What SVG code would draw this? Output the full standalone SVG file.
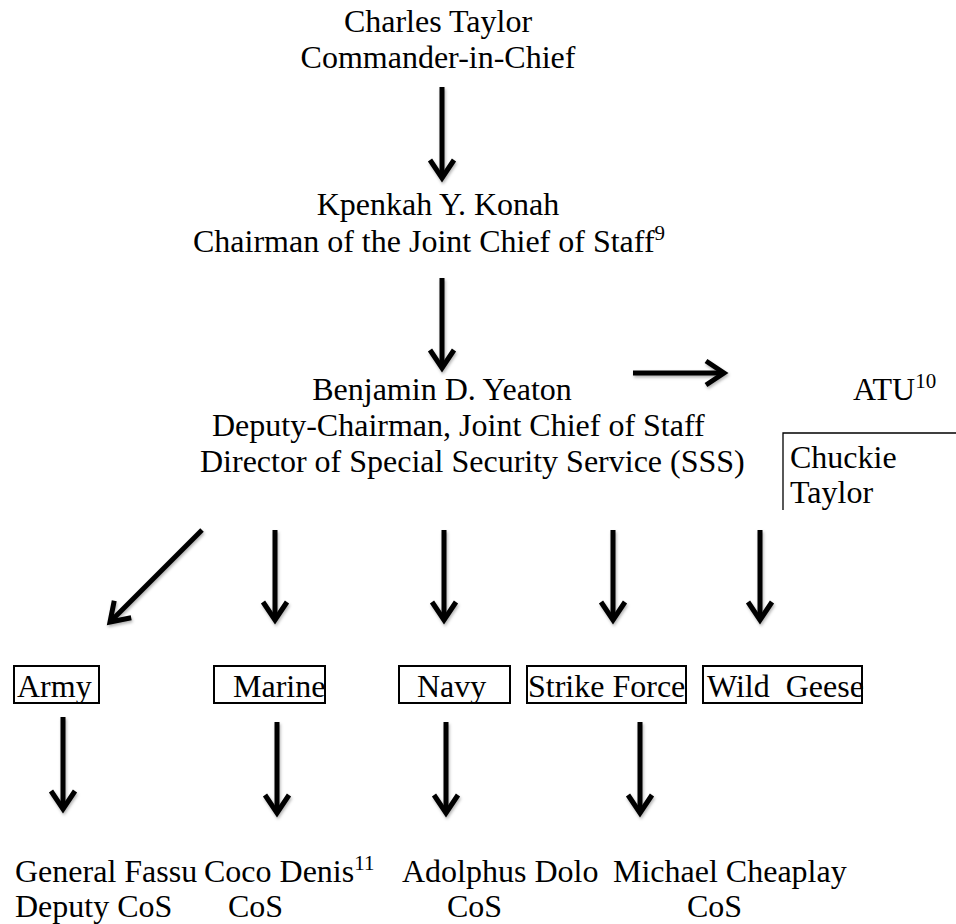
<svg xmlns="http://www.w3.org/2000/svg" width="956" height="924" viewBox="0 0 956 924">
<style>
text{font-family:"Liberation Serif","Times New Roman",serif;font-size:32px;fill:#000}
.c{text-anchor:middle}
.sup{font-size:21px}
.box{fill:none;stroke:#000;stroke-width:2}
.arr{fill:none;stroke:#000;stroke-width:5;marker-end:url(#ah)}
</style>
<defs>
<marker id="ah" markerUnits="userSpaceOnUse" viewBox="-24 -16 30 32" markerWidth="30" markerHeight="32" refX="0" refY="0" orient="auto">
<path d="M-18,-12 L0,0 L-18,12" fill="none" stroke="#000" stroke-width="5" stroke-linejoin="miter"/>
</marker>
<filter id="sh" x="-20%" y="-20%" width="140%" height="140%">
<feDropShadow dx="1" dy="2" stdDeviation="1.5" flood-color="#000" flood-opacity="0.3"/>
</filter>
</defs>
<rect width="956" height="924" fill="#fff"/>
<g id="connectors" filter="url(#sh)">
<line class="arr" x1="442" y1="87" x2="442" y2="178"/>
<line class="arr" x1="442" y1="278" x2="442" y2="368"/>
<line class="arr" x1="633" y1="373" x2="724" y2="373"/>
<line class="arr" x1="202" y1="530" x2="110" y2="622"/>
<line class="arr" x1="275" y1="530" x2="275" y2="620"/>
<line class="arr" x1="444" y1="530" x2="444" y2="620"/>
<line class="arr" x1="613" y1="530" x2="613" y2="620"/>
<line class="arr" x1="760" y1="530" x2="760" y2="620"/>
<line class="arr" x1="63" y1="717" x2="63" y2="809"/>
<line class="arr" x1="277" y1="722" x2="277" y2="813"/>
<line class="arr" x1="446" y1="722" x2="446" y2="813"/>
<line class="arr" x1="640" y1="722" x2="640" y2="813"/>
</g>
<g id="taylor">
<text class="c" x="438" y="32">Charles Taylor</text>
<text class="c" x="438" y="68">Commander-in-Chief</text>
</g>
<g id="konah">
<text class="c" x="438" y="215">Kpenkah Y. Konah</text>
<text x="193" y="252">Chairman of the Joint Chief of Staff<tspan class="sup" dy="-12">9</tspan></text>
</g>
<g id="yeaton">
<text class="c" x="442" y="400">Benjamin D. Yeaton</text>
<text x="212" y="436">Deputy-Chairman, Joint Chief of Staff</text>
<text x="200" y="472">Director of Special Security Service (SSS)</text>
</g>
<g id="atu">
<text x="853" y="400">ATU<tspan class="sup" dy="-12">10</tspan></text>
</g>
<g id="chuckie">
<path d="M783,510 V433 H956" fill="none" stroke="#000" stroke-width="1.3"/>
<text x="790" y="468">Chuckie</text>
<text x="790" y="503">Taylor</text>
</g>
<g id="army">
<rect class="box" x="14" y="666" width="85" height="37"/>
<text x="17" y="697">Army</text>
</g>
<g id="marine">
<rect class="box" x="214" y="666" width="111" height="37"/>
<text x="233" y="697">Marine</text>
</g>
<g id="navy">
<rect class="box" x="399" y="666" width="111" height="37"/>
<text x="417" y="697">Navy</text>
</g>
<g id="strike">
<rect class="box" x="527" y="666" width="159" height="37"/>
<text x="528" y="697">Strike Force</text>
</g>
<g id="wildgeese">
<rect class="box" x="703" y="666" width="159" height="37"/>
<text x="707" y="697">Wild&#160; Geese</text>
</g>
<g id="fassu">
<text x="15" y="882">General Fassu</text>
<text x="15" y="917">Deputy CoS</text>
</g>
<g id="denis">
<text x="204" y="882">Coco Denis<tspan class="sup" dy="-12">11</tspan></text>
<text x="228" y="917">CoS</text>
</g>
<g id="dolo">
<text x="402" y="882">Adolphus Dolo</text>
<text x="447" y="917">CoS</text>
</g>
<g id="cheaplay">
<text x="613" y="882">Michael Cheaplay</text>
<text x="687" y="917">CoS</text>
</g>
</svg>
